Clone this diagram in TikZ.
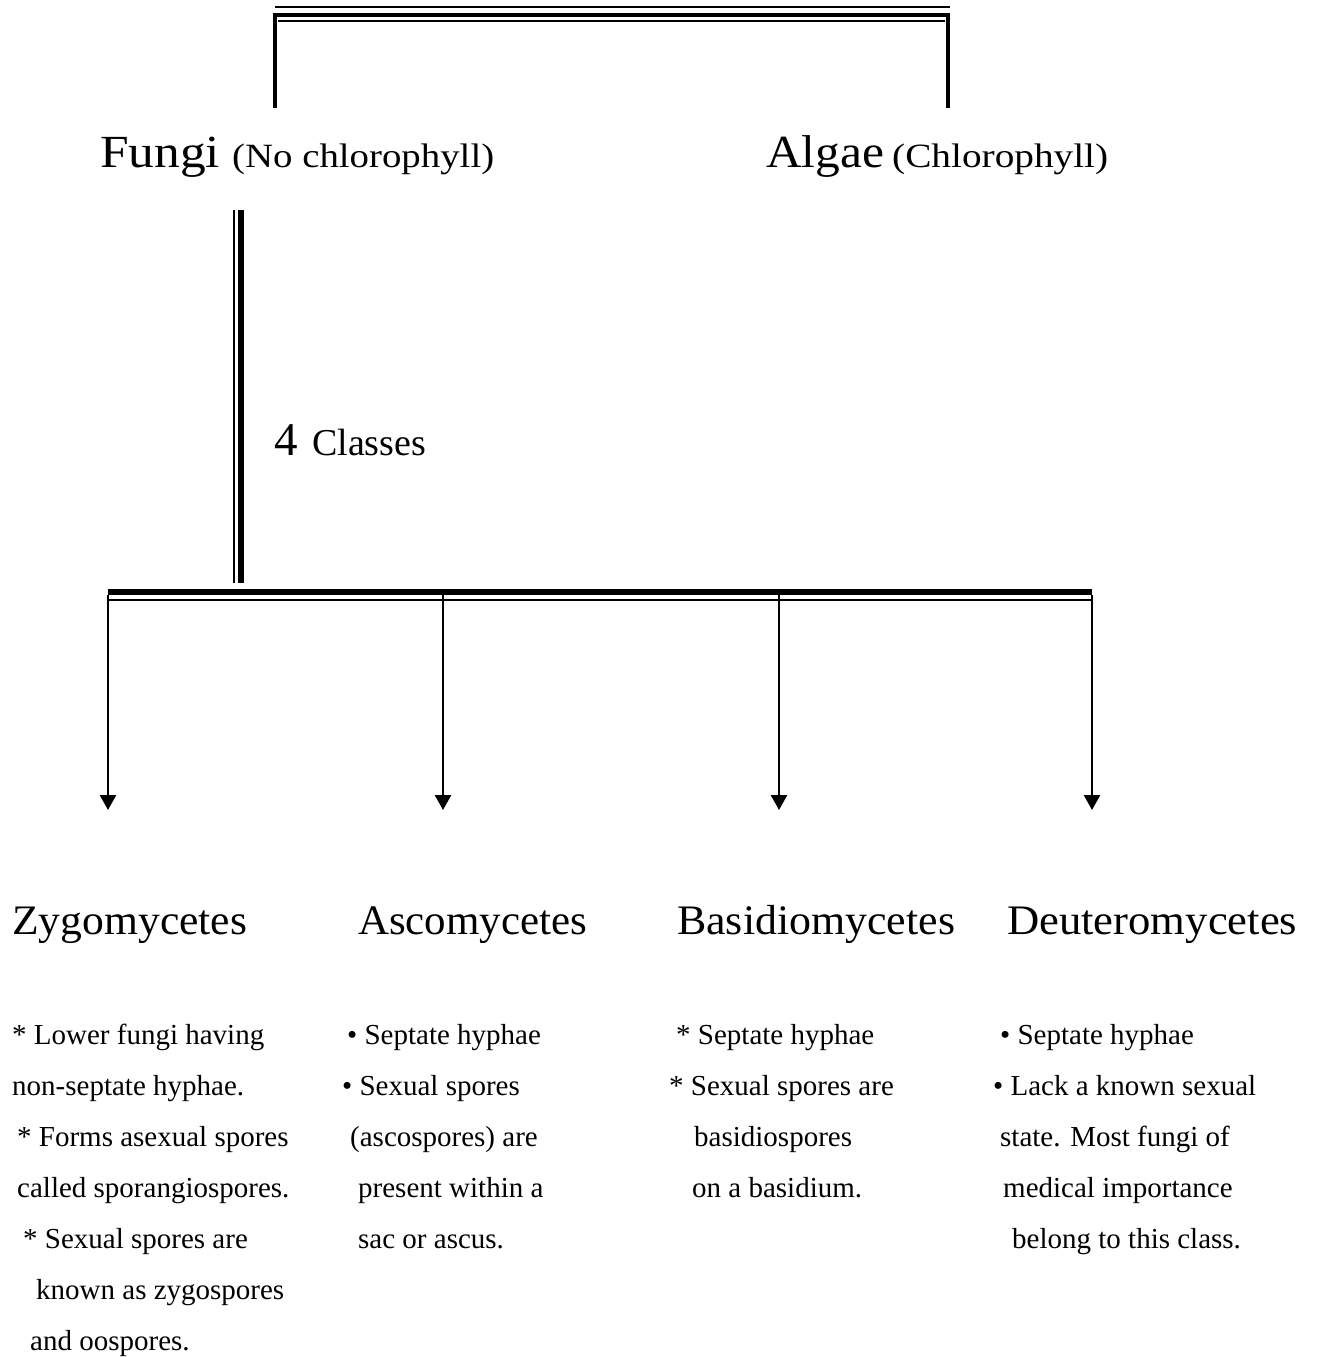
\documentclass[tikz,border=0pt]{standalone}
\usepackage{fontspec}
\setmainfont{Liberation Serif}
\usetikzlibrary{arrows.meta}
\newcommand\wfit[2]{\resizebox{#1}{\height}{#2}}
\begin{document}
\begin{tikzpicture}[x=1pt,y=-1pt,
  txt/.style={anchor=base west, inner sep=0pt, font=\fontsize{29}{29}\selectfont},
  head/.style={anchor=base west, inner sep=0pt, font=\fontsize{42}{42}\selectfont},
  big/.style={anchor=base west, inner sep=0pt, font=\fontsize{46}{46}\selectfont},
  paren/.style={anchor=base west, inner sep=0pt, font=\fontsize{34}{34}\selectfont},
  arr/.style={line width=2.5pt, -{Triangle[width=16pt,length=15pt]}},
]
\useasboundingbox (0,0) rectangle (1317,1357);
% top bracket
\coordinate (tA) at (275,108);
\coordinate (tB) at (948,108);
\draw[line width=2.5pt] (275,7) -- (950,7);
\draw[line width=4pt] (tA) -- (275,15) -- (948,15) -- (tB);
\draw[line width=1.8pt] (278,21) -- (945,21);
% titles
\node[big] (fungi) at (100,167) {\wfit{120pt}{Fungi}};
\node[paren] (fungip) at (232,167) {\wfit{262pt}{(No chlorophyll)}};
\node[big] (algae) at (766,167) {\wfit{118pt}{Algae}};
\node[paren] (algaep) at (892,167) {\wfit{216pt}{(Chlorophyll)}};
% vertical from fungi
\coordinate (v1) at (234,210);
\coordinate (v2) at (234,583);
\coordinate (w1) at (241,210);
\coordinate (w2) at (241,583);
\draw[line width=1.5pt] (v1) -- (v2);
\draw[line width=5.5pt] (w1) -- (w2);
\node[anchor=base west, inner sep=0pt, font=\fontsize{47}{47}\selectfont] (four) at (274,455) {4};
\node[anchor=base west, inner sep=0pt, font=\fontsize{38}{38}\selectfont] (classes) at (312,455) {Classes};
% bar
\coordinate (b1) at (108,592);
\coordinate (b2) at (1092,592);
\draw[line width=6pt] (b1) -- (b2);
\draw[line width=2pt] (108,600) -- (1092,600);
\coordinate (s1) at (108,595);
\coordinate (s2) at (443,595);
\coordinate (s3) at (779,595);
\coordinate (s4) at (1092,595);
\coordinate (e1) at (108,810);
\coordinate (e2) at (443,810);
\coordinate (e3) at (779,810);
\coordinate (e4) at (1092,810);
\draw[arr] (s1) -- (e1);
\draw[arr] (s2) -- (e2);
\draw[arr] (s3) -- (e3);
\draw[arr] (s4) -- (e4);
% headings
\node[head] (zyg) at (12,934) {\wfit{235pt}{Zygomycetes}};
\node[head] (asco) at (358,934) {\wfit{229pt}{Ascomycetes}};
\node[head] (basi) at (677,934) {\wfit{278pt}{Basidiomycetes}};
\node[head] (deut) at (1007,934) {\wfit{290pt}{Deuteromycetes}};
% column 1
\node[txt] (z1) at (12,1044) {* Lower fungi having};
\node[txt] (z2) at (12,1095) {non-septate hyphae.};
\node[txt] (z3) at (17,1146) {* Forms asexual spores};
\node[txt] (z4) at (17,1197) {called sporangiospores.};
\node[txt] (z5) at (23,1248) {* Sexual spores are};
\node[txt] (z6) at (36,1299) {known as zygospores};
\node[txt] (z7) at (30,1350) {and oospores.};
% column 2
\node[txt] (a1) at (347,1044) {• Septate hyphae};
\node[txt] (a2) at (342,1095) {• Sexual spores};
\node[txt] (a3) at (350,1146) {(ascospores) are};
\node[txt] (a4) at (358,1197) {present within a};
\node[txt] (a5) at (358,1248) {sac or ascus.};
% column 3
\node[txt] (b1t) at (676,1044) {* Septate hyphae};
\node[txt] (b2t) at (669,1095) {* Sexual spores are};
\node[txt] (b3t) at (694,1146) {basidiospores};
\node[txt] (b4t) at (692,1197) {on a basidium.};
% column 4
\node[txt] (d1) at (1000,1044) {• Septate hyphae};
\node[txt] (d2) at (993,1095) {• Lack a known sexual};
\node[txt] (d3) at (1000,1146) {state. Most fungi of};
\node[txt] (d4) at (1003,1197) {medical importance};
\node[txt] (d5) at (1012,1248) {belong to this class.};
\end{tikzpicture}
\end{document}
